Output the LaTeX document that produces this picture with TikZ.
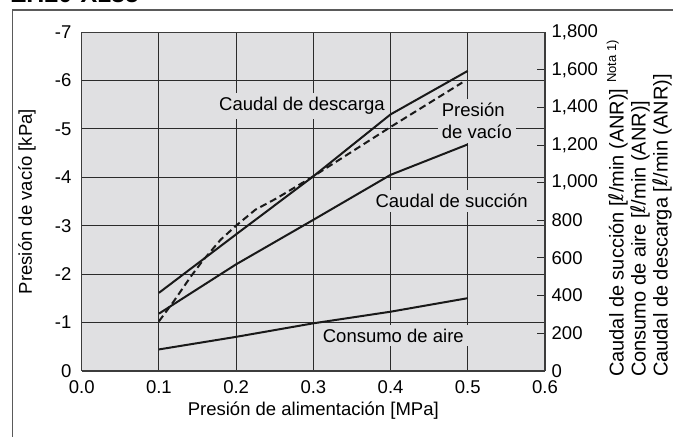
\documentclass[tikz,border=0pt]{standalone}
\usepackage{fontspec}
\setmainfont{Liberation Sans}
\newfontfamily\dejavu{DejaVu Sans}
\definecolor{plotbg}{HTML}{E0E0E2}
\definecolor{gridc}{HTML}{2B2B2B}
\definecolor{framec}{HTML}{5A5A5A}
\definecolor{axisc}{HTML}{3C3C3C}
\newcommand{\ellsym}{{\dejavu\itshape ℓ}}
\begin{document}
\begin{tikzpicture}[x=1pt,y=-1pt,
  lbl/.style={font=\fontsize{18.5}{22.5}\selectfont, inner sep=0pt},
  masklbl/.style={lbl, fill=plotbg, inner sep=4pt},
  curve/.style={line width=2pt, color=black!90, line join=round},
  gridline/.style={line width=1pt, color=gridc},
]
\useasboundingbox (0,0) rectangle (673,437);
% title (cut by the top edge)
\node[anchor=base west, inner sep=0pt, font=\fontsize{25}{25}\selectfont\bfseries] (title) at (11,2.6) {ZH20-X185};
% outer frame
\draw[framec, line width=1.3pt] (12.3,437) -- (12.3,10) -- (673,10);
% plot background
\fill[plotbg] (81.7,32.3) rectangle (545,370.7);
\begin{scope}[shift={(81.7,370.7)}, x=772pt, y=48.35pt]
  \foreach \k in {1,...,6} \draw[gridline] (0,\k) -- (0.6,\k);
  \foreach \p in {0.1,0.2,0.3,0.4,0.5} \draw[gridline] (\p,0) -- (\p,7);
  \foreach \r in {1,...,8} \draw[gridline] (0.6,\r*7/9) -- ++(-8pt,0);
  \draw[axisc, line width=1.4pt] (0,0) -- (0,7) -- (0.6,7) -- (0.6,0);
  \draw[axisc, line width=2pt] (0,0) -- (0.6,0);
\end{scope}
% labels inside the plot
\node[masklbl] (ldesc) at (302,106) {Caudal de descarga};
\node[masklbl, align=left, anchor=west] (lvac) at (437.7,121) {Presión\\de vacío};
\node[masklbl] (lsuc) at (451.7,200.7) {Caudal de succión};
\node[masklbl] (lcons) at (393.3,335.7) {Consumo de aire};
% curves
\begin{scope}[shift={(81.7,370.7)}, x=772pt, y=48.35pt]
  \draw[curve] (0.1,1.61) -- (0.2,2.82) -- (0.3,4.02) -- (0.4,5.30) -- (0.5,6.20);
  \draw[curve] (0.1,1.18) -- (0.2,2.20) -- (0.3,3.12) -- (0.4,4.05) -- (0.5,4.68);
  \draw[curve] (0.1,0.44) -- (0.2,0.70) -- (0.3,0.98) -- (0.4,1.22) -- (0.5,1.50);
  \draw[curve, dash pattern=on 7pt off 4pt] (0.1,1.02) -- (0.119,1.43) -- (0.141,1.94) -- (0.156,2.26) -- (0.18,2.71) -- (0.2,3.0) -- (0.225,3.33) -- (0.253,3.57) -- (0.3,4.02) -- (0.4,5.04) -- (0.493,5.96);
\end{scope}
% left tick labels
\foreach \k in {0,...,7} {
  \node[lbl, anchor=east] (yl\k) at (71.5,{370.7-48.35*\k}) {\ifnum\k=0 0\else -\k\fi};
}
% right tick labels
\foreach \r/\t in {0/0,1/200,2/400,3/600,4/800,5/{1,000},6/{1,200},7/{1,400},8/{1,600},9/{1,800}} {
  \node[lbl, anchor=west] (yr\r) at (551.5,{370.7-37.6056*\r}) {\t};
}
% x tick labels
\foreach \i/\t in {0/0.0,1/0.1,2/0.2,3/0.3,4/0.4,5/0.5,6/0.6} {
  \node[lbl] (xl\i) at ({81.7+77.22*\i},387) {\t};
}
% axis titles
\node[lbl, rotate=90] (ytitle) at (27,201.5) {Presión de vacío [kPa]};
\node[lbl] (xtitle) at (313.3,411) {Presión de alimentación [MPa]};
\node[lbl, font=\fontsize{20}{22}\selectfont, rotate=90, anchor=west, align=left] (rtitle) at (639.3,377) {Caudal de succión [\ellsym/min (ANR)] \raisebox{7.5pt}{\fontsize{13}{13}\selectfont Nota 1)}\\Consumo de aire [\ellsym/min (ANR)]\\Caudal de descarga [\ellsym/min (ANR)]};
\end{tikzpicture}
\end{document}
